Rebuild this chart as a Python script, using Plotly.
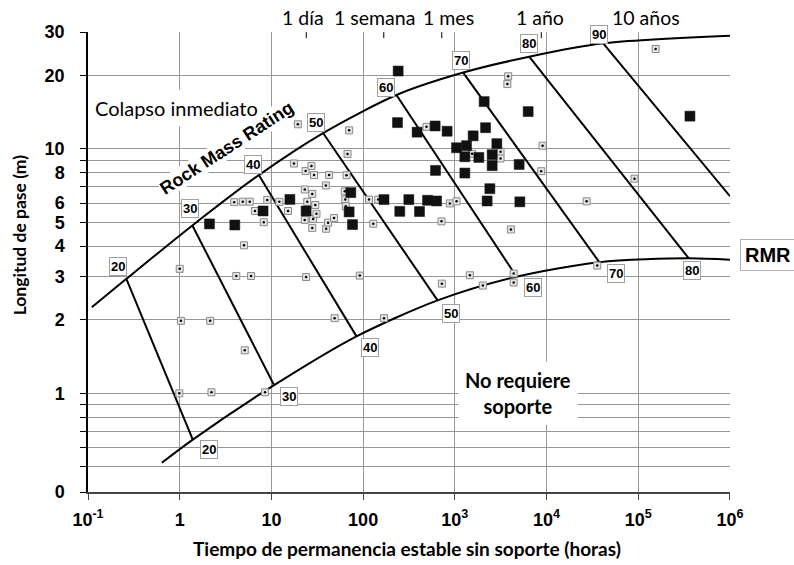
import math
import plotly.graph_objects as go

# ---------------- data (hours, metres) ----------------
upper_t = [0.110, 0.262, 1.375, 7.29, 36.6, 231, 1234, 6470, 41500, 1.0e6]
upper_L = [2.25, 2.94, 4.86, 7.81, 11.6, 16.6, 20.5, 23.8, 27.0, 29.0]
lower_t = [0.638, 1.389, 10.7, 84.7, 648, 4708, 37570, 354500, 1.0e6]
lower_L = [0.520, 0.647, 1.08, 1.71, 2.40, 3.0, 3.44, 3.57, 3.52]

rmr_values = [20, 30, 40, 50, 60, 70, 80, 90]
rmr_top_t = [0.262, 1.375, 7.29, 36.6, 231, 1234, 6470, 41500]
rmr_top_L = [2.94, 4.86, 7.81, 11.6, 16.6, 20.5, 23.8, 27.0]
rmr_bot_t = [1.389, 10.7, 84.7, 648, 4708, 37570, 354500, 1.0e6]
rmr_bot_L = [0.647, 1.08, 1.71, 2.40, 3.0, 3.44, 3.57, 6.40]

sq_t = [2.11, 3.99, 8.11, 15.9, 23.9, 70.4, 73.4, 76.6, 169, 241, 237, 251, 315,
        388, 412, 504, 610, 616, 632, 824, 1044, 1286, 1286, 1342, 1584, 1828,
        2088, 2163, 2251, 2409, 2553, 2553, 2872, 5028, 5117, 6303, 366300]
sq_L = [4.93, 4.88, 5.57, 6.21, 5.57, 5.52, 6.62, 4.90, 6.20, 20.8, 12.8, 5.55, 6.20,
        11.7, 5.54, 6.16, 12.4, 8.16, 6.12, 11.8, 10.1, 9.28, 7.96, 10.3, 11.3, 9.22,
        15.6, 12.2, 6.12, 6.87, 9.46, 8.53, 10.5, 8.63, 6.07, 14.2, 13.6]

pt_t = [19.4, 70.4, 67.6, 17.6, 23.6, 27.3, 29.2, 42.6, 65.9, 39.2, 23.1, 27.9, 30.1,
        24.6, 3.93, 4.87, 5.80, 9.01, 12.2, 6.61, 8.25, 15.2, 23.1, 28.5, 31.0, 27.9,
        39.5, 41.5, 48.2, 63.1, 63.9, 64.7, 129, 116, 146, 491, 1545, 882, 1044, 716,
        3815, 3740, 9057, 3152, 3152, 8747, 91100, 27350, 4085, 154800, 5.02, 1.00,
        4.14, 6.00, 23.9, 92.0, 1.03, 2.15, 48.9, 5.12, 169, 0.99, 2.22, 8.53, 722,
        1458, 2021, 4380, 4380, 35700]
pt_L = [12.6, 11.9, 9.53, 8.71, 8.11, 8.51, 7.81, 7.81, 7.80, 7.08, 6.82, 6.54, 5.89,
        6.07, 6.05, 6.08, 6.08, 6.18, 6.07, 5.57, 5.01, 5.57, 5.12, 5.17, 5.42, 4.75,
        4.71, 4.99, 5.21, 6.70, 6.21, 5.82, 4.94, 6.20, 6.20, 12.3, 9.54, 5.98, 6.10, 5.05,
        19.8, 18.4, 10.3, 9.72, 9.13, 8.10, 7.55, 6.10, 4.68, 25.6, 4.03, 3.23,
        3.02, 3.02, 2.99, 3.03, 1.98, 1.98, 2.03, 1.50, 2.03, 1.00, 1.01, 1.01, 2.81,
        3.04, 2.76, 3.09, 2.84, 3.33]

time_marks_h = [24, 168, 720, 8760, 87600]
time_labels = ["1 día", "1 semana", "1 mes", "1 año", "10 años"]
time_ticks_h = [24, 168, 720, 8760]

x_tickvals = [0.1, 1, 10, 100, 1e3, 1e4, 1e5, 1e6]
x_ticktext = ["10<sup>-1</sup>", "1", "10", "100", "10<sup>3</sup>", "10<sup>4</sup>",
              "10<sup>5</sup>", "10<sup>6</sup>"]
y_bottom = 0.395
y_tickvals = [y_bottom, 1, 2, 3, 4, 5, 6, 8, 10, 20, 30]
y_ticktext = ["0", "1", "2", "3", "4", "5", "6", "8", "10", "20", "30"]
y_minor_vals = [0.5, 0.6, 0.7, 0.8, 0.9, 7, 9]

# label offsets (pixels) for the RMR number boxes
top_dx = [-8, -2, -6, -7, -10, -2, 0, -4]
top_dy = [12, 17, 11, 11, 8, 12, 13, 9]
bot_dx = [16, 15, 13, 13, 16, 17, 3]
bot_dy = [-10, -11, -11, -13, -11, -11, -12]
time_dx = [-3.5, -9, 7, -1, 13]

# ---------------- figure ----------------
fig = go.Figure()
LINE = dict(color="black", width=2)

fig.add_trace(go.Scatter(x=upper_t, y=upper_L, mode="lines",
                         line=dict(shape="spline", smoothing=0.8, **LINE), hoverinfo="skip"))
fig.add_trace(go.Scatter(x=lower_t, y=lower_L, mode="lines",
                         line=dict(shape="spline", smoothing=0.8, **LINE), hoverinfo="skip"))
for i in range(len(rmr_values)):
    fig.add_trace(go.Scatter(x=[rmr_top_t[i], rmr_bot_t[i]], y=[rmr_top_L[i], rmr_bot_L[i]],
                             mode="lines", line=LINE, hoverinfo="skip"))

# small boxed points
fig.add_trace(go.Scatter(x=pt_t, y=pt_L, mode="markers",
                         marker=dict(symbol="square", size=7, color="#e4e4e4",
                                     line=dict(color="#8a8a8a", width=1))))
fig.add_trace(go.Scatter(x=pt_t, y=pt_L, mode="markers",
                         marker=dict(symbol="circle", size=2.5, color="black")))
# black squares
fig.add_trace(go.Scatter(x=sq_t, y=sq_L, mode="markers",
                         marker=dict(symbol="square", size=10, color="#111111",
                                     line=dict(color="#111111", width=0.5))))

# time tick marks at the top edge
y_top = 30.0
tick_len_dec = 6 / 244.8
for h in time_ticks_h:
    fig.add_trace(go.Scatter(x=[h, h], y=[y_top, 10 ** (math.log10(y_top) - tick_len_dec)],
                             mode="lines", line=dict(color="black", width=1), hoverinfo="skip"))

ann = []
BOXFONT = dict(family="Liberation Sans", size=13, color="black", weight="bold")
for i, v in enumerate(rmr_values):
    ann.append(dict(x=math.log10(rmr_top_t[i]), y=math.log10(rmr_top_L[i]), xref="x", yref="y",
                    xanchor="center", yanchor="middle",
                    text=str(v), showarrow=False, xshift=top_dx[i], yshift=top_dy[i],
                    font=BOXFONT, bgcolor="white", bordercolor="#a0a0a0", borderwidth=1, borderpad=1))
for i, v in enumerate(rmr_values[:7]):
    ann.append(dict(x=math.log10(rmr_bot_t[i]), y=math.log10(rmr_bot_L[i]), xref="x", yref="y",
                    xanchor="center", yanchor="middle",
                    text=str(v), showarrow=False, xshift=bot_dx[i], yshift=bot_dy[i],
                    font=BOXFONT, bgcolor="white", bordercolor="#a0a0a0", borderwidth=1, borderpad=1))

for h, lab, dx in zip(time_marks_h, time_labels, time_dx):
    ann.append(dict(x=math.log10(h), y=1, xref="x", yref="paper", xanchor="center", yanchor="middle",
                    yshift=15, xshift=dx, text=lab, showarrow=False,
                    font=dict(family="Lato", size=19.5, color="black")))

ann.append(dict(x=0.138, y=0.8354, xref="paper", yref="paper", xanchor="center", yanchor="middle",
                text="Colapso inmediato", showarrow=False,
                font=dict(family="Lato", size=20, color="black"),
                bgcolor="white", borderpad=6))
ann.append(dict(x=0.2161, y=0.7485, xref="paper", yref="paper", xanchor="center", yanchor="middle",
                text="Rock Mass Rating", showarrow=False, textangle=-33, bgcolor="white", borderpad=0,
                font=dict(family="Liberation Sans", size=18, color="black", weight="bold")))
ann.append(dict(x=0.6696, y=0.2163, xref="paper", yref="paper", xanchor="center", yanchor="middle",
                text="No requiere<br>soporte", showarrow=False, bgcolor="white", borderpad=6,
                font=dict(family="Lato", size=20, color="black", weight="bold")))
ann.append(dict(x=1.0592, y=0.515, xref="paper", yref="paper", xanchor="center", yanchor="middle",
                text="RMR", showarrow=False, bgcolor="white", bordercolor="#b0b0b0",
                borderwidth=1, borderpad=4,
                font=dict(family="Liberation Sans", size=20, color="black", weight="bold")))
ann.append(dict(x=0.497, y=-0.1225, xref="paper", yref="paper", xanchor="center", yanchor="middle",
                text="Tiempo de permanencia estable sin soporte (horas)", showarrow=False,
                font=dict(family="Lato", size=19, color="black", weight="bold")))
ann.append(dict(x=-0.1064, y=0.5595, xref="paper", yref="paper", xanchor="center", yanchor="middle",
                textangle=-90, text="Longitud de pase (m)", showarrow=False,
                font=dict(family="Lato", size=17.5, color="black", weight="bold")))

fig.update_layout(
    width=794, height=565,
    margin=dict(l=88.3, r=64, t=32, b=72.6),
    paper_bgcolor="white", plot_bgcolor="white",
    showlegend=False,
    annotations=ann,
    xaxis=dict(type="log", range=[-1, 6.0005], tickvals=x_tickvals, ticktext=x_ticktext,
               automargin=False,
               showgrid=True, gridcolor="#969696", gridwidth=1,
               showline=True, linecolor="#444444", linewidth=2,
               ticks="outside", ticklen=6, tickcolor="#444444",
               ticklabelstandoff=4,
               tickfont=dict(family="Liberation Sans", size=18, color="black", weight="bold")),
    yaxis=dict(type="log", range=[math.log10(y_bottom), math.log10(30) + 0.0006],
               tickvals=y_tickvals, ticktext=y_ticktext, automargin=False,
               showgrid=True, gridcolor="#969696", gridwidth=1,
               showline=True, linecolor="black", linewidth=1.5,
               ticks="outside", ticklen=6, tickcolor="black",
               ticklabelstandoff=12,
               minor=dict(tickvals=y_minor_vals, showgrid=True, gridcolor="#969696", gridwidth=1,
                          ticks="outside", ticklen=6, tickcolor="black"),
               tickfont=dict(family="Liberation Sans", size=18, color="black", weight="bold")),
)

fig.write_html("out.html", config={"displayModeBar": False},
               post_script="document.body.style.margin='0px';")
